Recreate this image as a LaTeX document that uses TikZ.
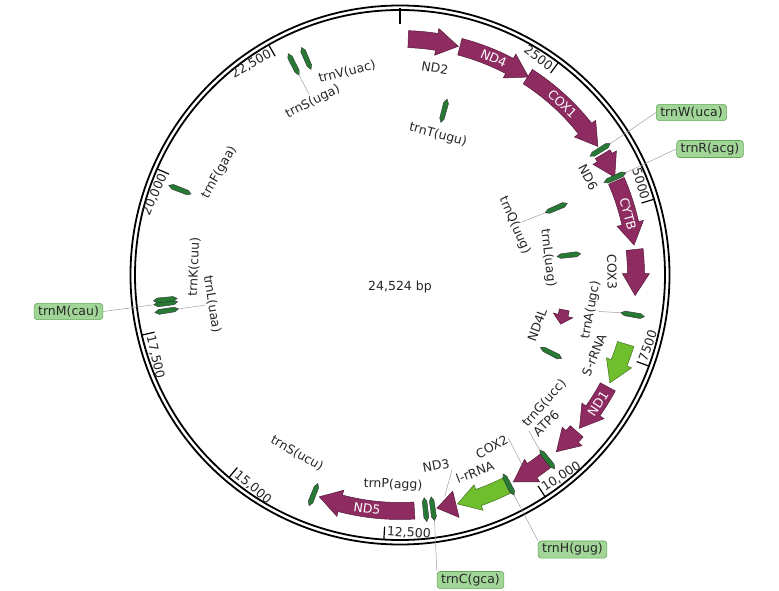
\documentclass[tikz,border=0pt]{standalone}
\usepackage{fontspec}
\newfontfamily\mapfont{DejaVu Sans}
\usetikzlibrary{calc}

\definecolor{genecol}{RGB}{142,43,96}
\definecolor{rrnacol}{RGB}{110,190,45}
\definecolor{trnacol}{RGB}{38,122,52}
\definecolor{boxfill}{RGB}{162,214,152}
\definecolor{boxedge}{RGB}{96,168,86}

% curved gene arrow: [head length] name, start angle, tip angle, mid radius, half width, style
\newcommand{\genearrow}[7][22]{%
  \pgfmathsetmacro{\gdir}{(#3>#4) ? 1 : -1}%
  \pgfmathsetmacro{\ghd}{min(#1/#5*57.2958, abs(#3-#4))}%
  \pgfmathsetmacro{\gah}{#4+\gdir*\ghd}%
  \pgfmathsetmacro{\gro}{#5+#6}%
  \pgfmathsetmacro{\gri}{#5-#6}%
  \pgfmathsetmacro{\ghro}{#5+#6+5}%
  \pgfmathsetmacro{\ghri}{#5-#6-5}%
  \draw[#7] (#3:\gro pt) arc[start angle=#3, end angle=\gah, radius=\gro pt]
    -- (\gah:\ghro pt) -- (#4:#5pt) coordinate (#2-tip) -- (\gah:\ghri pt)
    -- (\gah:\gri pt) arc[start angle=\gah, end angle=#3, radius=\gri pt] -- cycle;
}

% thin tRNA sliver: name, angle, mid radius
\newcommand{\trnabar}[3]{%
  \pgfmathsetmacro{\tRa}{#3-12}\pgfmathsetmacro{\tRb}{#3-8}%
  \pgfmathsetmacro{\tRc}{#3+8}\pgfmathsetmacro{\tRd}{#3+12}%
  \pgfmathsetmacro{\tRw}{2.4/#3*57.2958}%
  \path (#2:\tRa pt) coordinate (#1-in) (#2:\tRd pt) coordinate (#1-out);
  \draw[trnafill] (#1-in) -- ({#2+\tRw}:\tRb pt) -- ({#2+\tRw}:\tRc pt) -- (#1-out)
    -- ({#2-\tRw}:\tRc pt) -- ({#2-\tRw}:\tRb pt) -- cycle;
}

% label along the circle: [style] name, angle, radius, text
\newcommand{\featlabel}[5][]{%
  \pgfmathsetmacro{\lrot}{sin(#3)>=0 ? #3-90 : #3+90}%
  \node[rotate=\lrot, #1] (#2) at (#3:#4pt) {#5};
}

\begin{document}
\begin{tikzpicture}[
    every node/.style={font=\mapfont\fontsize{12.5}{14}\selectfont, text=black!85, inner sep=1.5pt},
    gene/.style={fill=genecol, draw=genecol!60!black, line width=0.5pt},
    rrna/.style={fill=rrnacol, draw=rrnacol!60!black, line width=0.5pt},
    trnafill/.style={fill=trnacol, draw=black!80, line width=0.4pt},
    inlbl/.style={text=white},
    tagbox/.style={draw=boxedge, fill=boxfill, rounded corners=3pt, inner xsep=4pt, inner ysep=2.5pt, line width=0.6pt},
    leader/.style={gray!75, line width=0.5pt},
  ]
    \useasboundingbox (-400pt,-315pt) rectangle (379pt,275pt);

    % 1. backbone (double circle) and scale
    \draw[line width=1.8pt] (0,0) circle[radius=269.5pt];
    \draw[line width=1.8pt] (0,0) circle[radius=265pt];
    \draw[line width=1.3pt] (90:267pt) -- (90:251pt);
    \foreach \k/\lab/\anc/\off in {1/2500/east/-90, 2/5000/east/-90, 3/7500/west/90,
        4/{10,000}/west/90, 5/{12,500}/west/90, 6/{15,000}/west/90,
        7/{17,500}/west/90, 8/{20,000}/east/-90, 9/{22,500}/east/-90} {
        \pgfmathsetmacro{\tang}{90-36.69874*\k}
        \draw[line width=1.2pt] (\tang:265pt) -- (\tang:252pt);
        \node[anchor=\anc, rotate=\tang+\off, inner sep=2.5pt] (tick\k) at (\tang:257pt) {\lab};
    }

    \node (total) at (0pt,-12pt) {24,524 bp};

    % 2. protein genes
    \genearrow{nd2}{88}{75.7}{236}{8.5}{gene}
    \genearrow{nd4}{75.3}{57}{236}{8.5}{gene}
    \genearrow{cox1}{57.2}{33}{236}{8.5}{gene}
    \genearrow{nd6}{30.8}{24.5}{236}{8.5}{gene}
    \genearrow{cytb}{23.5}{7.3}{236}{8.5}{gene}
    \genearrow{cox3}{6.2}{-5}{236}{8.5}{gene}
    \genearrow{nd1}{-28.3}{-40.5}{236}{8.5}{gene}
    \genearrow{atp6}{-41.5}{-48.5}{236}{8.5}{gene}
    \genearrow{cox2}{-51}{-61.3}{236}{8.5}{gene}
    \genearrow{nd3}{-76.3}{-81}{236}{8.5}{gene}
    \genearrow{nd5}{-86.5}{-110}{236}{8.5}{gene}
    \genearrow[9]{nd4l}{-12}{-17}{168}{5}{gene}

    % 3. rRNA genes
    \genearrow{srrna}{-17}{-27.2}{236}{8.5}{rrna}
    \genearrow{lrrna}{-62.8}{-75.9}{236}{8.5}{rrna}

    % 4. tRNA genes
    \trnabar{trnW}{32}{236}
    \trnabar{trnR}{24.4}{236}
    \trnabar{trnA}{-9.7}{236}
    \trnabar{trnG}{-51.4}{236}
    \trnabar{trnH}{-62.6}{236}
    \trnabar{trnC}{-82}{236}
    \trnabar{trnP}{-83.8}{236}
    \trnabar{trnSucu}{-111.5}{236}
    \trnabar{trnLuaa}{188.7}{236}
    \trnabar{trnM}{186.9}{236}
    \trnabar{trnK}{186}{236}
    \trnabar{trnF}{158.8}{236}
    \trnabar{trnSuga}{116.8}{236}
    \trnabar{trnV}{113.4}{236}
    \trnabar{trnT}{75}{170}
    \trnabar{trnQ}{23.2}{170}
    \trnabar{trnLuag}{6.7}{170}
    \trnabar{trnX}{-27.3}{170}

    % 5. labels
    \featlabel{nd2lbl}{80.4}{210}{ND2}
    \featlabel[inlbl]{nd4lbl}{66.6}{236}{ND4}
    \featlabel[inlbl]{cox1lbl}{46.5}{236}{COX1}
    \featlabel{nd6lbl}{27.5}{212}{ND6}
    \featlabel[inlbl]{cytblbl}{15}{236}{CYTB}
    \featlabel{cox3lbl}{0.8}{212}{COX3}
    \featlabel{trnAlbl}{-10.4}{194}{trnA(ugc)}
    \featlabel{srrnalbl}{-22.4}{210}{S-rRNA}
    \featlabel[inlbl]{nd1lbl}{-33}{236}{ND1}
    \featlabel{atp6lbl}{-45.4}{208}{ATP6}
    \featlabel{trnGlbl}{-41.6}{193}{trnG(ucc)}
    \featlabel{cox2lbl}{-61.9}{195}{COX2}
    \featlabel{lrrnalbl}{-69.2}{211}{l-rRNA}
    \featlabel{nd3lbl}{-79.3}{194}{ND3}
    \featlabel{trnPlbl}{-91.9}{210}{trnP(agg)}
    \featlabel[inlbl]{nd5lbl}{-98}{236}{ND5}
    \featlabel{trnSuculbl}{-120}{206}{trnS(ucu)}
    \featlabel{trnLuaalbl}{188.8}{190}{trnL(uaa)}
    \featlabel{trnKlbl}{177.8}{206}{trnK(cuu)}
    \featlabel{trnFlbl}{150.4}{208}{trnF(gaa)}
    \featlabel{trnSugalbl}{116.7}{194}{trnS(uga)}
    \featlabel{trnVlbl}{104.6}{210}{trnV(uac)}
    \featlabel{trnTlbl}{74.8}{145}{trnT(ugu)}
    \featlabel{trnQlbl}{23.5}{125}{trnQ(uug)}
    \featlabel{trnLuaglbl}{6.6}{149}{trnL(uag)}
    \featlabel{nd4llbl}{-20}{146}{ND4L}

    % 6. boxed tags
    \node[tagbox] (trnWbox) at (291.5pt,162.5pt) {trnW(uca)};
    \node[tagbox] (trnRbox) at (310pt,126pt) {trnR(acg)};
    \node[tagbox] (trnHbox) at (172.5pt,-274.5pt) {trnH(gug)};
    \node[tagbox] (trnCbox) at (70.5pt,-305pt) {trnC(gca)};
    \node[tagbox] (trnMbox) at (-331.5pt,-36.5pt) {trnM(cau)};

    % 7. leader lines
    \coordinate (cox2-in) at (-57.3:226pt);
    \coordinate (nd3-in) at (-78.6:226pt);
    \draw[leader] (trnW-out) -- (trnWbox.west);
    \draw[leader] (trnR-out) -- (trnRbox.west);
    \draw[leader] (trnH-out) -- (trnHbox.north west);
    \draw[leader] (trnC-out) -- (trnCbox.north west);
    \draw[leader] (trnMbox.east) -- (trnM-out);
    \draw[leader] (trnLuaa-in) -- (trnLuaalbl.south);
    \draw[leader] (trnQ-in) -- (trnQlbl.north);
    \draw[leader] (trnSuga-in) -- (trnSugalbl.north);
    \draw[leader] (trnA-in) -- (trnAlbl.south);
    \draw[leader] (trnG-in) -- (trnGlbl.south west);
    \draw[leader] (cox2lbl.east) -- (cox2-in);
    \draw[leader] (nd3lbl.south east) -- (nd3-in);
\end{tikzpicture}
\end{document}
